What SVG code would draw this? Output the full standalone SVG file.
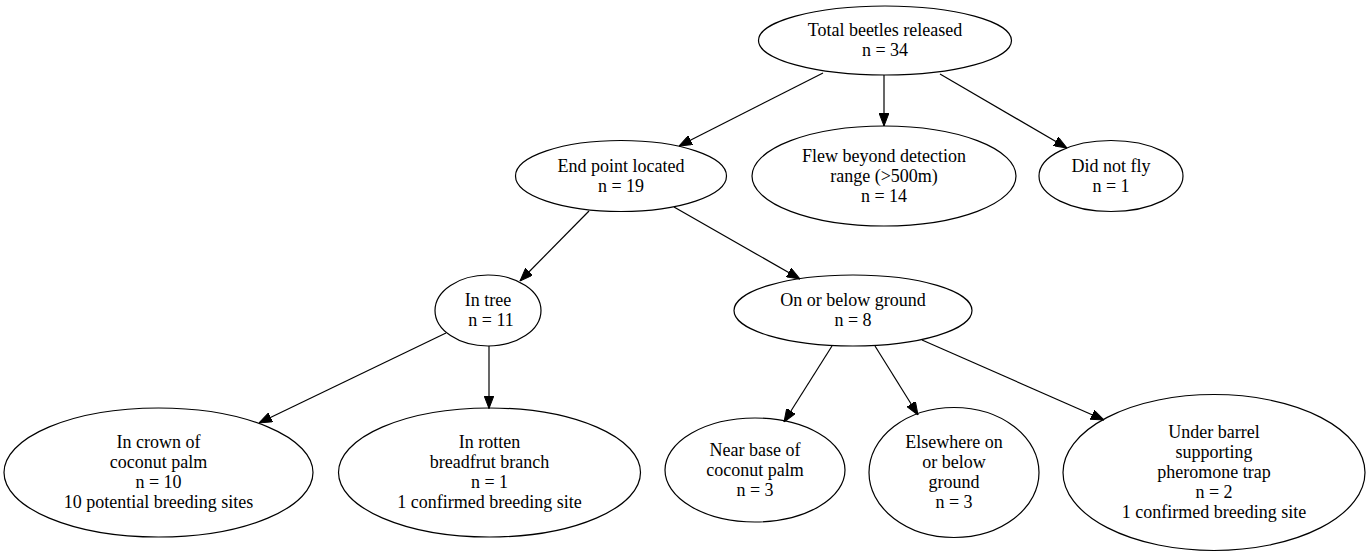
<svg xmlns="http://www.w3.org/2000/svg" width="1369" height="557" viewBox="0 0 1369 557">
<style>
.n ellipse{fill:none;stroke:#000;stroke-width:1.2}
.n text{font-family:"Liberation Serif","Times New Roman",serif;font-size:18px;fill:#000;text-anchor:middle}
.e line{stroke:#000;stroke-width:1.2;marker-end:url(#ah)}
</style>
<defs>
<marker id="ah" viewBox="0 0 13 10" refX="13" refY="5" markerWidth="13" markerHeight="10" markerUnits="userSpaceOnUse" orient="auto">
<path d="M0,0 L13,5 L0,10 z" fill="#000" stroke="#000" stroke-width="1"/>
</marker>
</defs>
<rect width="1369" height="557" fill="#fff"/>
<g id="edges" class="e">
<line x1="823" y1="73" x2="679" y2="146"/>
<line x1="884" y1="75" x2="884" y2="126"/>
<line x1="940" y1="74" x2="1067" y2="148"/>
<line x1="589" y1="211" x2="520" y2="281"/>
<line x1="674" y1="207" x2="800" y2="279"/>
<line x1="446" y1="333" x2="259" y2="423"/>
<line x1="489" y1="346" x2="489" y2="408.5"/>
<line x1="832" y1="346" x2="784" y2="422"/>
<line x1="875" y1="346" x2="918" y2="415"/>
<line x1="922" y1="340" x2="1104" y2="420"/>
</g>
<g id="total" class="n">
<ellipse cx="885" cy="40.5" rx="126.5" ry="34.5"/>
<text x="885" y="36">Total beetles released</text>
<text x="885" y="56">n = 34</text>
</g>
<g id="endpoint" class="n">
<ellipse cx="621" cy="176" rx="105.5" ry="35.5"/>
<text x="621" y="172">End point located</text>
<text x="621" y="192">n = 19</text>
</g>
<g id="flew" class="n">
<ellipse cx="884" cy="176" rx="132" ry="50"/>
<text x="884" y="161.5">Flew beyond detection</text>
<text x="884" y="181.5">range (&gt;500m)</text>
<text x="884" y="201.5">n = 14</text>
</g>
<g id="didnotfly" class="n">
<ellipse cx="1111" cy="176" rx="72" ry="35.5"/>
<text x="1111" y="172">Did not fly</text>
<text x="1111" y="192">n = 1</text>
</g>
<g id="intree" class="n">
<ellipse cx="488" cy="310.5" rx="53" ry="35.5"/>
<text x="488" y="306">In tree</text>
<text x="491" y="326">n = 11</text>
</g>
<g id="ground" class="n">
<ellipse cx="853" cy="310.5" rx="119" ry="35.5"/>
<text x="853" y="306">On or below ground</text>
<text x="853" y="326">n = 8</text>
</g>
<g id="crown" class="n">
<ellipse cx="158.5" cy="472.5" rx="154.5" ry="64.5"/>
<text x="158.5" y="448">In crown of</text>
<text x="158.5" y="468">coconut palm</text>
<text x="158.5" y="488">n = 10</text>
<text x="158.5" y="508">10 potential breeding sites</text>
</g>
<g id="rotten" class="n">
<ellipse cx="489.5" cy="472.5" rx="151" ry="64.5"/>
<text x="489.5" y="448">In rotten</text>
<text x="489.5" y="468">breadfrut branch</text>
<text x="489.5" y="488">n = 1</text>
<text x="489.5" y="508">1 confirmed breeding site</text>
</g>
<g id="nearbase" class="n">
<ellipse cx="755" cy="470" rx="90" ry="52"/>
<text x="755" y="455.5">Near base of</text>
<text x="755" y="475.5">coconut palm</text>
<text x="755" y="495.5">n = 3</text>
</g>
<g id="elsewhere" class="n">
<ellipse cx="954" cy="472.5" rx="85" ry="65"/>
<text x="954" y="448">Elsewhere on</text>
<text x="954" y="468">or below</text>
<text x="954" y="488">ground</text>
<text x="954" y="508">n = 3</text>
</g>
<g id="barrel" class="n">
<ellipse cx="1214" cy="472.5" rx="151" ry="78"/>
<text x="1214" y="438">Under barrel</text>
<text x="1214" y="458">supporting</text>
<text x="1214" y="478">pheromone trap</text>
<text x="1214" y="498">n = 2</text>
<text x="1214" y="518">1 confirmed breeding site</text>
</g>
</svg>
